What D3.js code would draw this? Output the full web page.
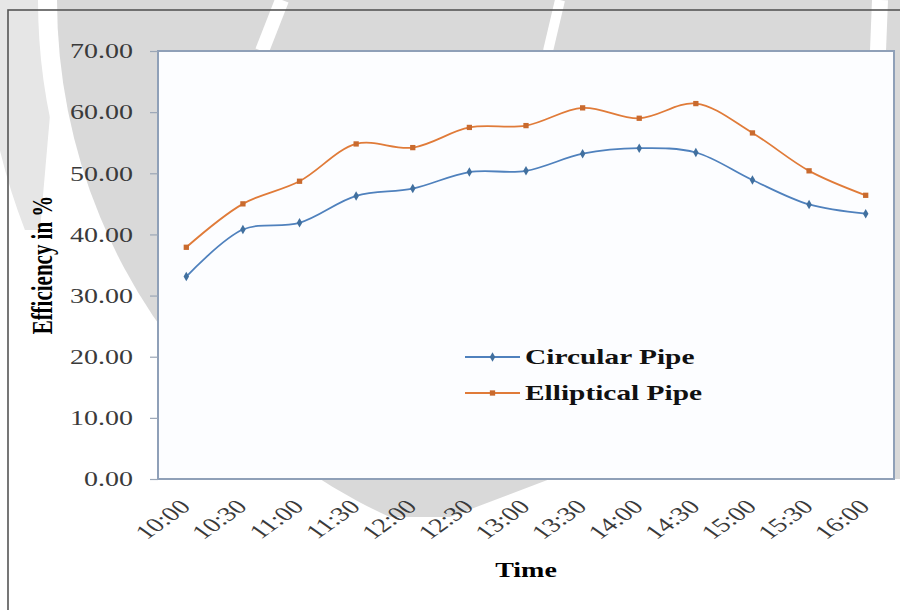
<!DOCTYPE html>
<html>
<head>
<meta charset="utf-8">
<script src="https://cdn.jsdelivr.net/npm/d3@7"></script>
<style>
  body { margin: 0; background: #fff; }
  svg { display: block; }
  text { font-family: "Liberation Serif", "Times New Roman", serif; }
</style>
</head>
<body>
<div class="chart"></div>
<script>
const times = ["10:00","10:30","11:00","11:30","12:00","12:30","13:00","13:30","14:00","14:30","15:00","15:30","16:00"];
const circular = [33.1, 40.8, 41.9, 46.3, 47.5, 50.2, 50.4, 53.2, 54.1, 53.4, 48.9, 44.9, 43.4];
const elliptical = [37.9, 45.0, 48.7, 54.8, 54.2, 57.5, 57.8, 60.7, 59.0, 61.4, 56.6, 50.4, 46.4];
const yTicks = [0, 10, 20, 30, 40, 50, 60, 70];
const seriesNames = ["Circular Pipe", "Elliptical Pipe"];

const W = 900, H = 610;
const plot = {left: 158, top: 51, right: 894, bottom: 479};
const stretch = 1.4; // the source image is widened horizontally

const svg = d3.select(".chart").append("svg")
  .attr("width", W)
  .attr("height", H);

// faint watermark behind the chart
const defs = svg.append("defs");
defs.append("clipPath").attr("id", "corner")
  .append("path").attr("d", "M0,0L60,0L40,230L0,230Z");
defs.append("clipPath").attr("id", "disc")
  .append("path").attr("d", "M0,0L900,0L900,479L550,479L450,517L0,517Z");

const wm = svg.append("g");
wm.append("circle").attr("cx", 620).attr("cy", 0).attr("r", 610)
  .attr("clip-path", "url(#corner)")
  .attr("fill", "none").attr("stroke", "#e6e6e6").attr("stroke-width", 56);
wm.append("circle").attr("cx", 625).attr("cy", 0).attr("r", 568)
  .attr("clip-path", "url(#disc)")
  .attr("fill", "#d9d9d9");
wm.append("line").attr("x1", 282).attr("y1", 0).attr("x2", 262).attr("y2", 51)
  .attr("stroke", "#fff").attr("stroke-width", 14);
wm.append("line").attr("x1", 560).attr("y1", 0).attr("x2", 548).attr("y2", 51)
  .attr("stroke", "#fff").attr("stroke-width", 10);
wm.append("line").attr("x1", 880).attr("y1", 0).attr("x2", 878).attr("y2", 51)
  .attr("stroke", "#fff").attr("stroke-width", 16);

// outer chart frame (cut by the picture edge)
svg.append("rect")
  .attr("x", 8).attr("y", 10)
  .attr("width", 1000).attr("height", 1000)
  .attr("fill", "none")
  .attr("stroke", "#555")
  .attr("stroke-width", 1.6);

// plot area
svg.append("rect")
  .attr("x", plot.left).attr("y", plot.top)
  .attr("width", plot.right - plot.left)
  .attr("height", plot.bottom - plot.top)
  .attr("fill", "#fcfdff")
  .attr("stroke", "#8fa0b8")
  .attr("stroke-width", 2);

const xScale = d3.scalePoint()
  .domain(times)
  .range([plot.left, plot.right])
  .padding(0.5);

const yScale = d3.scaleLinear()
  .domain([0, 70])
  .range([plot.bottom, plot.top]);

const yAxis = d3.axisLeft(yScale)
  .tickValues(yTicks)
  .tickFormat(d3.format(".2f"))
  .tickSize(8);

const gy = svg.append("g")
  .attr("transform", "translate(" + plot.left + ",0)")
  .call(yAxis);
gy.select(".domain").remove();
gy.selectAll(".tick line").attr("stroke", "#9aa6b6").attr("stroke-width", 1.2);
gy.selectAll(".tick text")
  .attr("x", 0)
  .attr("dy", "0.34em")
  .attr("transform", "translate(-25,0) scale(" + stretch + ",1)")
  .attr("text-anchor", "end")
  .attr("fill", "#3a3a3a")
  .style("font-size", "20px");

const xAxis = d3.axisBottom(xScale).tickSize(0);
const gx = svg.append("g")
  .attr("transform", "translate(0," + plot.bottom + ")")
  .call(xAxis);
gx.select(".domain").remove();
gx.selectAll(".tick text")
  .attr("x", 0).attr("y", 0).attr("dy", 0)
  .attr("transform", "translate(5,29) scale(" + stretch + ",1) rotate(-45)")
  .attr("text-anchor", "end")
  .attr("fill", "#3a3a3a")
  .style("font-size", "20px");

// axis titles
svg.append("text")
  .attr("transform", "translate(" + (plot.left + plot.right) / 2 + ",577) scale(" + stretch + ",1)")
  .attr("text-anchor", "middle")
  .attr("font-weight", "bold")
  .style("font-size", "20px")
  .text("Time");

svg.append("text")
  .attr("transform", "translate(52," + (plot.top + plot.bottom) / 2 + ") scale(" + stretch + ",1) rotate(-90)")
  .attr("text-anchor", "middle")
  .attr("font-weight", "bold")
  .style("font-size", "21px")
  .text("Efficiency in %");

// lines
const colors = ["#4f81bd", "#e07b39"];
const allSeries = [circular, elliptical];

const line = d3.line()
  .x((d, i) => xScale(times[i]))
  .y(d => yScale(d))
  .curve(d3.curveCatmullRom.alpha(0.5));

allSeries.forEach((s, k) => {
  svg.append("path")
    .datum(s)
    .attr("fill", "none")
    .attr("stroke", colors[k])
    .attr("stroke-width", 1.8)
    .attr("d", line);
});

const diamond = d3.symbol().type(d3.symbolDiamond).size(26);
const square = d3.symbol().type(d3.symbolSquare).size(28);

svg.selectAll(".m0")
  .data(circular)
  .enter().append("path")
  .attr("class", "m0")
  .attr("transform", (d, i) => "translate(" + xScale(times[i]) + "," + yScale(d) + ")")
  .attr("d", diamond)
  .attr("fill", "#41709f");

svg.selectAll(".m1")
  .data(elliptical)
  .enter().append("path")
  .attr("class", "m1")
  .attr("transform", (d, i) => "translate(" + xScale(times[i]) + "," + yScale(d) + ")")
  .attr("d", square)
  .attr("fill", "#c96a2e");

// legend
const legend = svg.append("g").attr("transform", "translate(465,357)");
seriesNames.forEach((name, k) => {
  const g = legend.append("g").attr("transform", "translate(0," + k * 36 + ")");
  g.append("line")
    .attr("x1", 0).attr("x2", 55)
    .attr("stroke", colors[k]).attr("stroke-width", 1.8);
  g.append("path")
    .attr("transform", "translate(27.5,0)")
    .attr("d", k === 0 ? diamond : square)
    .attr("fill", k === 0 ? "#41709f" : "#c96a2e");
  g.append("text")
    .attr("transform", "translate(60,7) scale(" + stretch + ",1)")
    .attr("font-weight", "bold")
    .style("font-size", "21px")
    .attr("fill", "#111")
    .text(name);
});
</script>
</body>
</html>
